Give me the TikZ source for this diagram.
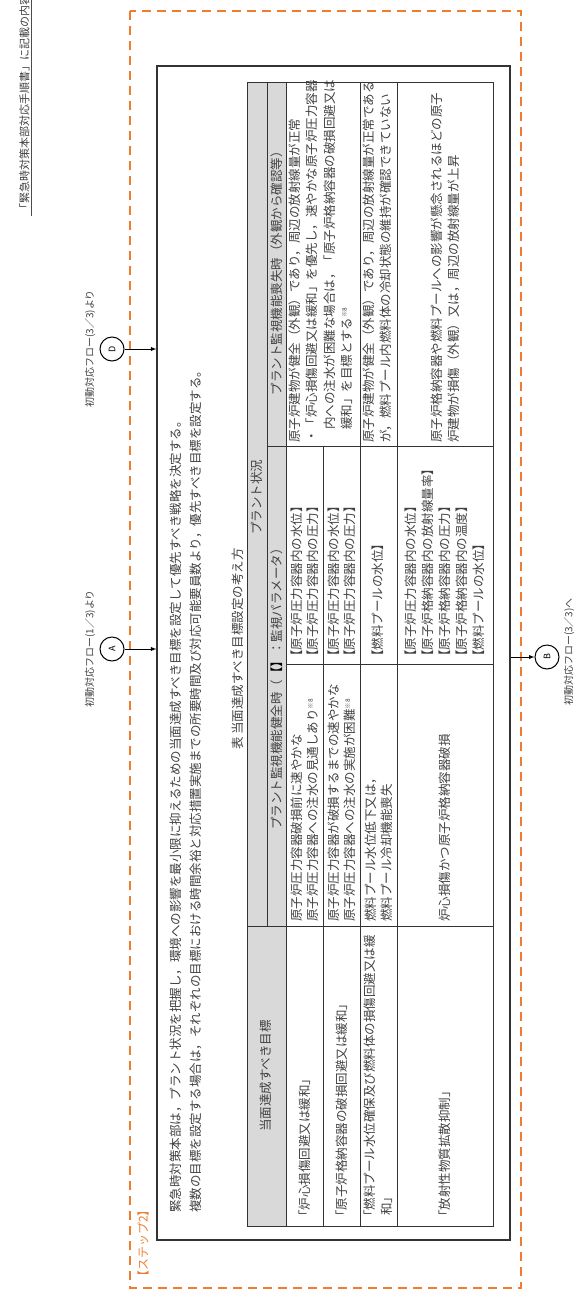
\documentclass[tikz,border=0pt]{standalone}
\usepackage{fontspec}
\setmainfont{Noto Sans CJK JP}
\usetikzlibrary{arrows}
\definecolor{steporange}{RGB}{237,125,49}
\newcommand{\komeno}{\raisebox{0.7ex}{\fontsize{6.5}{7}\selectfont ※8}}

\begin{document}
\begin{tikzpicture}[x=1pt, y=-1pt,
  txt/.style={rotate=90, anchor=west, inner sep=0pt, text=black!75, font=\fontsize{12.5}{13}\selectfont},
  mid/.style={txt, anchor=center},
  lbl/.style={rotate=90, inner sep=0pt, text=black!75, font=\fontsize{10}{10}\selectfont},
  rule/.style={black!80, line width=0.7pt},
  flow/.style={draw, circle, rotate=90, line width=1pt, minimum size=24pt, inner sep=0pt, font=\fontsize{9}{9}\selectfont}]
\clip (0,0) rectangle (579,1293);

% header of the page
\node[lbl, anchor=south west, inner sep=1.2pt, font=\fontsize{11}{11}\selectfont] (hdr) at (31,216) {「緊急時対策本部対応手順書」に記載の内容};
\draw[black!70, line width=0.6pt] (hdr.south west) -- (hdr.south east);

% step frame
\draw[steporange, line width=2.2pt, dash pattern=on 9pt off 6pt] (130,11) rectangle (521,1288);
\node[txt, text=steporange, font=\fontsize{12}{12}\selectfont] (step) at (143,1283) {【ステップ2】};
\node[draw, rule, line width=1.1pt, minimum width=353pt, minimum height=1174pt, inner sep=0pt] (frame) at (333.5,653) {};

% flow connectors
\node[flow] (D) at (112,349) {D};
\node[flow] (A) at (112,649) {A};
\node[flow] (B) at (547,657) {B};
\node[lbl] (Dl) at (90,349) {初動対応フロー(3／3)より};
\node[lbl] (Al) at (90,649) {初動対応フロー(1／3)より};
\node[lbl] (Bl) at (569,652) {初動対応フロー(3／3)へ};
\draw[-latex, line width=0.9pt] (D) -- (D -| frame.west);
\draw[-latex, line width=0.9pt] (A) -- (A -| frame.west);
\draw[-latex, line width=0.9pt] (frame.east |- B) -- (B);

% text
\node[txt] (s1) at (176,1213) {緊急時対策本部は，プラント状況を把握し，環境への影響を最小限に抑えるための当面達成すべき目標を設定して優先すべき戦略を決定する。};
\node[txt] (s2) at (196,1213) {複数の目標を設定する場合は，それぞれの目標における時間余裕と対応措置実施までの所要時間及び対応可能要員数より，優先すべき目標を設定する。};
\node[mid] (title) at (238,649) {表\ 当面達成すべき目標設定の考え方};

% table
\fill[black!15] (247,82) rectangle (286,1226);
\draw[rule] (247,82) rectangle (493,1226);
\draw[rule] (267,82) -- (267,926) (286,82) -- (286,1226) (323,446) -- (323,1226)
  (360,82) -- (360,1226) (397,82) -- (397,1226)
  (247,926) -- (493,926) (286,664) -- (493,664) (267,446) -- (493,446);
\node[mid] (goalhead) at (266,1076) {当面達成すべき目標};
\node[mid] (plant) at (257,497) {プラント状況};
\node[mid] (okhead) at (277,686) {プラント監視機能健全時（{\color{black}【】}：監視パラメータ）};
\node[mid] (losthead) at (277,270) {プラント監視機能喪失時（外観から確認等）};

\node[txt] (g1) at (305,1223) {「炉心損傷回避又は緩和」};
\node[txt] (g2) at (342,1223) {「原子炉格納容器の破損回避又は緩和」};
\node[txt] (g3) at (370,1223) {「燃料プール水位確保及び燃料体の損傷回避又は緩};
\node[txt] (g3b) at (387,1216) {和」};
\node[txt] (g4) at (445,1223) {「放射性物質拡散抑制」};

\node[txt] (c1a) at (297,922) {原子炉圧力容器破損前に速やかな};
\node[txt] (c1b) at (313,922) {原子炉圧力容器への注水の見通しあり\komeno};
\node[txt] (c2a) at (334,922) {原子炉圧力容器が破損するまでの速やかな};
\node[txt] (c2b) at (350,922) {原子炉圧力容器への注水の実施が困難\komeno};
\node[txt] (c3a) at (371,922) {燃料プール水位低下又は，};
\node[txt] (c3b) at (387,922) {燃料プール冷却機能喪失};
\node[txt] (c4) at (445,922) {炉心損傷かつ原子炉格納容器破損};

\node[txt] (p1a) at (297,663) {【原子炉圧力容器内の水位】};
\node[txt] (p1b) at (313,663) {【原子炉圧力容器内の圧力】};
\node[txt] (p2a) at (334,663) {【原子炉圧力容器内の水位】};
\node[txt] (p2b) at (350,663) {【原子炉圧力容器内の圧力】};
\node[txt] (p3) at (378,663) {【燃料プールの水位】};
\node[txt] (p4a) at (411,663) {【原子炉圧力容器内の水位】};
\node[txt] (p4b) at (428,663) {【原子炉格納容器内の放射線量率】};
\node[txt] (p4c) at (445,663) {【原子炉格納容器内の圧力】};
\node[txt] (p4d) at (462,663) {【原子炉格納容器内の温度】};
\node[txt] (p4e) at (479,663) {【燃料プールの水位】};

\node[txt] (l1) at (295,443) {原子炉建物が健全（外観）であり，周辺の放射線量が正常};
\node[txt] (l2) at (312,443) {・「炉心損傷回避又は緩和」を優先し，速やかな原子炉圧力容器};
\node[txt] (l3) at (330,430) {内への注水が困難な場合は，「原子炉格納容器の破損回避又は};
\node[txt] (l4) at (347,430) {緩和」を目標とする\komeno};
\node[txt] (l5) at (369,443) {原子炉建物が健全（外観）であり，周辺の放射線量が正常である};
\node[txt] (l6) at (386,443) {が，燃料プール内燃料体の冷却状態の維持が確認できていない};
\node[txt] (l7) at (437,443) {原子炉格納容器や燃料プールへの影響が懸念されるほどの原子};
\node[txt] (l8) at (454,443) {炉建物が損傷（外観）又は，周辺の放射線量が上昇};
\end{tikzpicture}
\end{document}
